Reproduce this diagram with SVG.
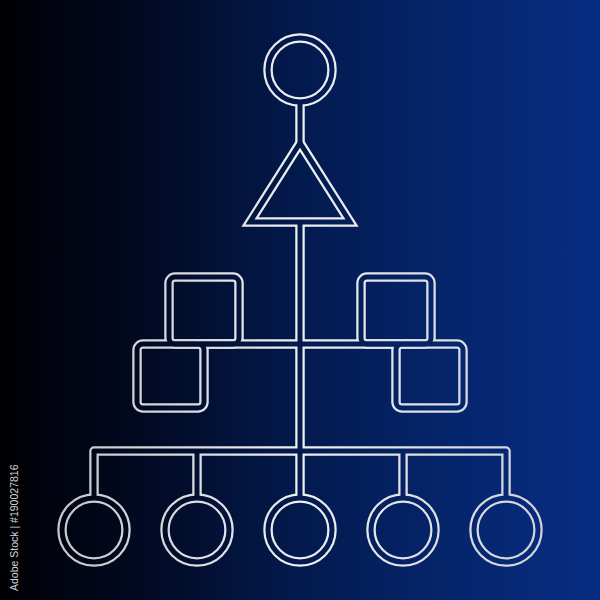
<svg xmlns="http://www.w3.org/2000/svg" xmlns:xlink="http://www.w3.org/1999/xlink" width="600" height="600" viewBox="0 0 600 600">
  <defs>
    <linearGradient id="bg" gradientUnits="userSpaceOnUse" x1="0" y1="0" x2="600" y2="0">
      <stop offset="0" stop-color="#000003"/>
      <stop offset="0.25" stop-color="#020a24"/>
      <stop offset="0.5" stop-color="#031a4e"/>
      <stop offset="0.75" stop-color="#05256c"/>
      <stop offset="1" stop-color="#072d82"/>
    </linearGradient>
    <linearGradient id="silver" gradientUnits="userSpaceOnUse" x1="60" y1="0" x2="540" y2="0">
      <stop offset="0" stop-color="#c4c7cc"/>
      <stop offset="0.5" stop-color="#eeeff1"/>
      <stop offset="1" stop-color="#d0d3d8"/>
    </linearGradient>
  </defs>
  <style>
    .silver { fill: none; stroke: url(#silver); stroke-width: 9.5; stroke-linejoin: round; }
    .core { fill: none; stroke: url(#bg); stroke-width: 5; stroke-linejoin: round; }
    .tri { stroke-linejoin: miter; stroke-miterlimit: 10; }
    .stamp { font-family: "Liberation Sans", Arial, sans-serif; font-size: 10.5px; fill: #d4d4d4; }
  </style>
  <rect x="0" y="0" width="600" height="600" fill="url(#bg)"/>

  <g class="silver">
    <g id="diagram">
      <g id="connectors">
        <path d="M300 100 V145"/>
        <path d="M300 220 V500"/>
        <path d="M200 344 H400"/>
        <path d="M94 500 V451 H506 V500"/>
        <path d="M197 451 V500"/>
        <path d="M403 451 V500"/>
      </g>
      <g id="node-top-circle"><circle cx="300" cy="70" r="32"/></g>
      <g id="node-triangle"><path class="tri" d="M300 143 L250 222 L350 222 Z"/></g>
      <g id="node-square-ul"><rect x="169" y="277" width="70" height="67" rx="6"/></g>
      <g id="node-square-ll"><rect x="137" y="344" width="67" height="64" rx="6"/></g>
      <g id="node-square-ur"><rect x="361" y="277" width="70" height="67" rx="6"/></g>
      <g id="node-square-lr"><rect x="396" y="344" width="67" height="64" rx="6"/></g>
      <g id="node-circle-1"><circle cx="94" cy="530" r="32"/></g>
      <g id="node-circle-2"><circle cx="197" cy="530" r="32"/></g>
      <g id="node-circle-3"><circle cx="300" cy="530" r="32"/></g>
      <g id="node-circle-4"><circle cx="403" cy="530" r="32"/></g>
      <g id="node-circle-5"><circle cx="506" cy="530" r="32"/></g>
    </g>
  </g>
  <use xlink:href="#diagram" href="#diagram" class="core"/>

  <text class="stamp" transform="translate(18,591) rotate(-90)">Adobe Stock | #190027816</text>
</svg>
